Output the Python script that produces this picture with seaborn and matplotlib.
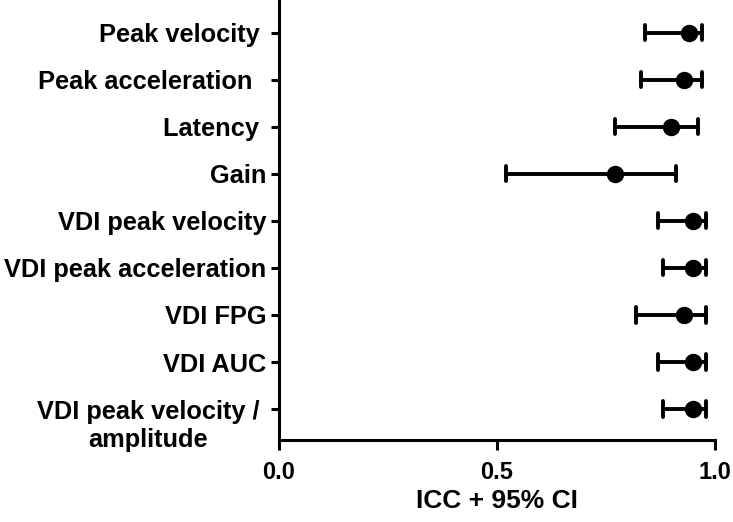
import pandas as pd
import seaborn as sns
import matplotlib.pyplot as plt

# ICC values with 95% CI
measures = ["Peak velocity ", "Peak acceleration  ", "Latency ", "Gain",
            "VDI peak velocity", "VDI peak acceleration", "VDI FPG",
            "VDI AUC", "VDI peak velocity / "]
second_line = "amplitude"
icc = [0.94, 0.93, 0.90, 0.77, 0.95, 0.95, 0.93, 0.95, 0.95]
ci_low = [0.84, 0.83, 0.77, 0.52, 0.87, 0.88, 0.82, 0.87, 0.88]
ci_high = [0.97, 0.97, 0.96, 0.91, 0.98, 0.98, 0.98, 0.98, 0.98]
x_ticks = [0.0, 0.5, 1.0]

# long form: low / icc / high per measure -> median is the ICC, full range is the CI
rows = []
for m, lo, mid, hi in zip(measures, ci_low, icc, ci_high):
    for v in (lo, mid, hi):
        rows.append({"measure": m, "value": v})
df = pd.DataFrame(rows)

sns.set_style("ticks")
plt.rcParams['font.family'] = ['Liberation Sans', 'DejaVu Sans']
plt.rcParams['font.weight'] = 'bold'
plt.rcParams['text.color'] = 'black'
plt.rcParams['axes.labelcolor'] = 'black'
plt.rcParams['xtick.color'] = 'black'
plt.rcParams['ytick.color'] = 'black'
plt.rcParams['axes.edgecolor'] = 'black'

fig = plt.figure(figsize=(7.33, 5.22), dpi=100)
ax = fig.add_axes([0.3806, 0.157, 0.5948, 0.843])

sns.pointplot(data=df, x="value", y="measure", order=measures,
              estimator="median", errorbar=("pi", 100), orient="h",
              linestyle="none", color="black", markersize=10.5,
              capsize=0.32, err_kws={"linewidth": 2.8}, ax=ax)

ax.set_xlim(0, 1.0)
ax.set_ylim(len(measures) - 1 + 0.66, -0.7)
ax.set_xticks(x_ticks)
ax.set_xticklabels([f"{t:.1f}" for t in x_ticks], fontsize=17, fontweight='bold')
ax.set_yticks(range(len(measures)))
ax.set_yticklabels(measures, fontsize=18.3, fontweight='bold')
ax.set_xlabel("ICC + 95% CI", fontsize=19, fontweight='bold', labelpad=4)
ax.set_ylabel("")

sns.despine(ax=ax)
for side in ["left", "bottom"]:
    ax.spines[side].set_linewidth(2.2)
ax.tick_params(axis='both', width=2.2, length=6, color='black', pad=3)
ax.tick_params(axis='x', length=7, pad=8)

# second line of the last label, centred under the first line
fig.canvas.draw()
bb = ax.get_yticklabels()[-1].get_window_extent()
ax.annotate(second_line, xy=((bb.x0 + bb.x1) / 2 - 4, bb.y0), xycoords='figure pixels',
            xytext=(0, -3), textcoords='offset points', ha='center', va='top',
            fontsize=18.3, fontweight='bold', annotation_clip=False)

plt.savefig("out.png", dpi=100)
